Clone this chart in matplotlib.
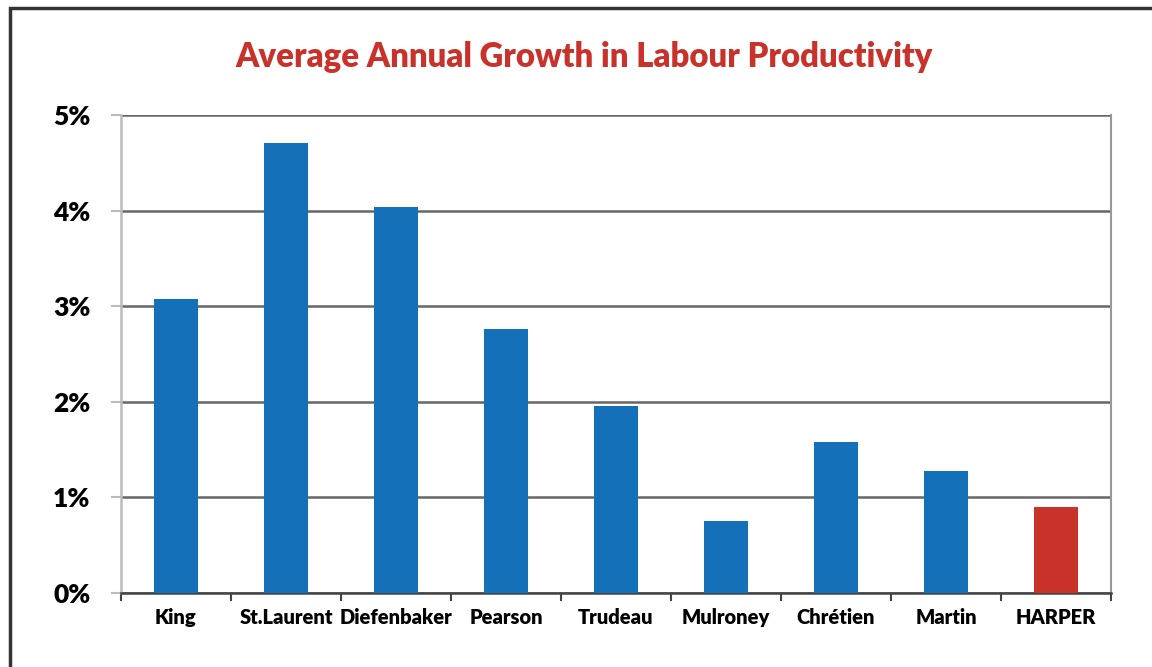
import numpy as np
import matplotlib.pyplot as plt
from matplotlib.patches import Rectangle

plt.rcParams['font.family'] = ['Lato', 'DejaVu Sans']

leaders = ['King', 'St.Laurent', 'Diefenbaker', 'Pearson', 'Trudeau',
           'Mulroney', 'Chrétien', 'Martin', 'HARPER']
growth = [3.08, 4.71, 4.04, 2.76, 1.96, 0.75, 1.58, 1.28, 0.90]
y_ticks = [0, 1, 2, 3, 4, 5]
y_labels = ['0%', '1%', '2%', '3%', '4%', '5%']

blue = '#1471B9'
red = '#C9322A'
colors = [blue] * (len(leaders) - 1) + [red]

fig = plt.figure(figsize=(11.52, 6.67), dpi=100)
ax = fig.add_axes([121 / 1152, 1 - 593 / 667, 990 / 1152, 478 / 667])

x = np.arange(len(leaders))
ax.bar(x, growth, width=0.4, color=colors, zorder=3)

ax.set_xlim(-0.5, len(leaders) - 0.5)
ax.set_ylim(0, 5)
ax.set_yticks(y_ticks)
ax.set_yticklabels(y_labels, fontsize=19, fontweight='heavy')
ax.set_xticks(x)
ax.set_xticklabels(leaders, fontsize=14.5, fontweight='heavy')
ax.tick_params(axis='x', length=0, pad=11)
ax.tick_params(axis='y', length=7, color='#bbbbbb', width=1.5, pad=15)

# category separator ticks under the x axis
ax.set_xticks(np.arange(-0.5, len(leaders)), minor=True)
ax.tick_params(axis='x', which='minor', length=6, width=1.5, color='#444444')

ax.yaxis.grid(True, color='#666666', linewidth=1.8, zorder=1)
ax.spines['right'].set_color('#999999')
ax.spines['right'].set_linewidth(1.5)
ax.spines['top'].set_visible(False)
ax.spines['left'].set_color('#bbbbbb')
ax.spines['left'].set_linewidth(1.8)
ax.spines['bottom'].set_color('#444444')
ax.spines['bottom'].set_linewidth(1.8)

fig.text(584 / 1152, 1 - 57 / 667, 'Average Annual Growth in Labour Productivity',
         ha='center', va='center', color=red, fontsize=23.7, fontweight='heavy')

# outer frame
fig.patches.append(Rectangle((10 / 1152, -0.1), 1.2, 1 - 8 / 667 + 0.1,
                             transform=fig.transFigure, fill=False,
                             edgecolor='#333333', linewidth=2.5))

fig.savefig('out.png', dpi=100)
